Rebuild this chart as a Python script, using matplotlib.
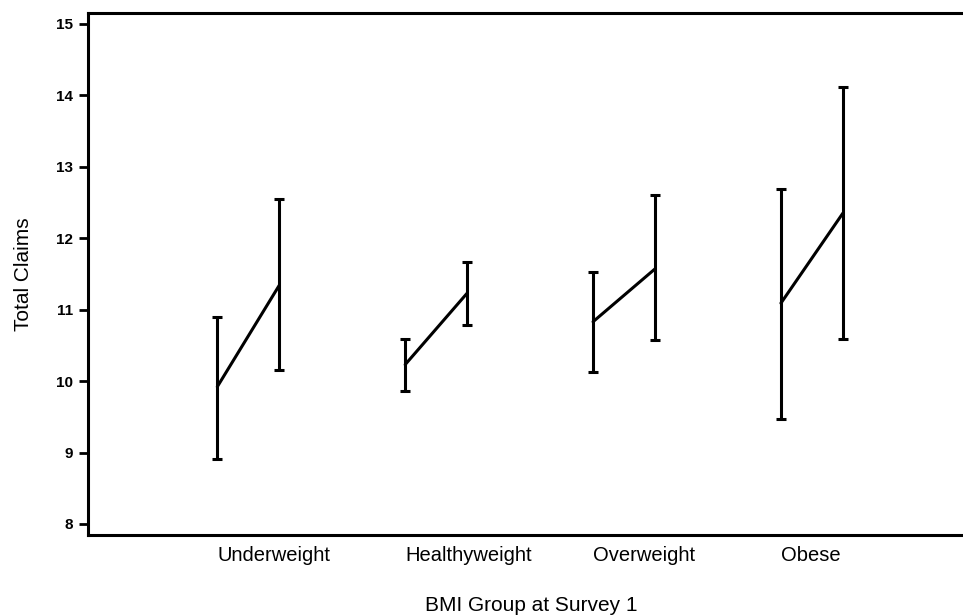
import matplotlib.pyplot as plt
import matplotlib.transforms as mtransforms
import numpy as np

plt.rcParams['font.family'] = ['Liberation Sans', 'DejaVu Sans']

groups = ['Underweight', 'Healthyweight', 'Overweight', 'Obese']
# two time points per group: mean, lower and upper limit
mean_1 = [9.92, 10.23, 10.83, 11.09]
lower_1 = [8.91, 9.86, 10.12, 9.47]
upper_1 = [10.90, 10.59, 11.52, 12.69]
mean_2 = [11.34, 11.23, 11.57, 12.35]
lower_2 = [10.15, 10.79, 10.57, 10.59]
upper_2 = [12.55, 11.67, 12.61, 14.12]

fig = plt.figure(figsize=(9.63, 6.15), dpi=100)
ax = fig.add_axes([0.0914, 0.1301, 0.9086, 0.8488])

xpos = np.arange(1, len(groups) + 1)
off = 0.165
for i, x in enumerate(xpos):
    xs = [x - off, x + off]
    ms = [mean_1[i], mean_2[i]]
    lo = [mean_1[i] - lower_1[i], mean_2[i] - lower_2[i]]
    hi = [upper_1[i] - mean_1[i], upper_2[i] - mean_2[i]]
    ax.errorbar(xs, ms, yerr=[lo, hi], color='black', lw=2.2,
                elinewidth=2.2, capsize=3.6, capthick=2.2,
                solid_capstyle='round')

ax.set_xlim(0.147, 4.804)
ax.set_ylim(7.846, 15.15)
ax.set_yticks(np.arange(8, 16, 1))
# group labels start at the first bar of each pair
ax.set_xticks(xpos - off)
ax.set_xticklabels(groups, fontsize=14.5, ha='left')
shift = mtransforms.ScaledTranslation(-3 / 100, 0, fig.dpi_scale_trans)
for lab in ax.get_xticklabels():
    lab.set_transform(lab.get_transform() + shift)
for lab in ax.get_yticklabels():
    lab.set_fontweight('bold')
    lab.set_fontsize(11)

ax.tick_params(axis='x', length=0, pad=8)
ax.tick_params(axis='y', length=6.5, width=2, pad=4)
for s in ['left', 'bottom', 'top']:
    ax.spines[s].set_linewidth(2.2)
ax.spines['right'].set_visible(False)

ax.set_ylabel('Total Claims', fontsize=15, labelpad=17)
ax.set_xlabel('BMI Group at Survey 1', fontsize=15, labelpad=22)
ax.xaxis.label.set_x(0.507)

fig.savefig('out.png', dpi=100)
